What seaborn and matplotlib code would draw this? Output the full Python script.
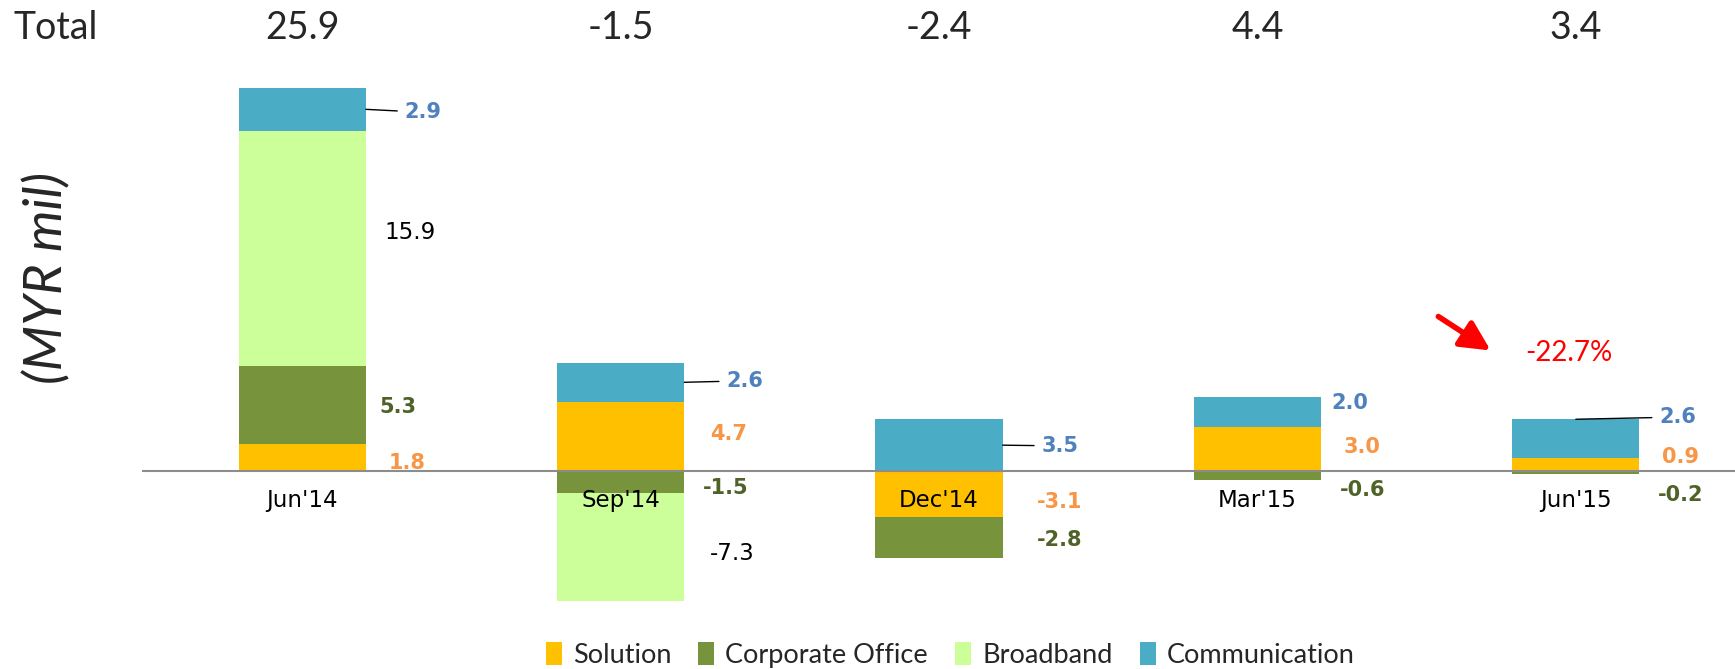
import numpy as np
import pandas as pd
import matplotlib
matplotlib.use("Agg")
import matplotlib.pyplot as plt
import matplotlib.transforms as mtransforms
from matplotlib.patches import Patch
import seaborn as sns

# Quarterly contribution by segment (MYR mil)
quarters = ["Jun'14", "Sep'14", "Dec'14", "Mar'15", "Jun'15"]
series = ["Solution", "Corporate Office", "Broadband", "Communication"]
solution = [1.8, 4.7, -3.1, 3.0, 0.9]
corporate = [5.3, -1.5, -2.8, -0.6, -0.2]
broadband = [15.9, -7.3, 0.0, 0.0, 0.0]
communication = [2.9, 2.6, 3.5, 2.0, 2.6]
totals = ["25.9", "-1.5", "-2.4", "4.4", "3.4"]
change_text = "-22.7%"

bar_colors = ["#FFC000", "#77933C", "#CCFF99", "#4BACC6"]
label_colors = ["#F79646", "#4F6228", "#000000", "#4F81BD"]
label_bold = [True, True, False, True]

# label placement: x offset from bar centre, y nudge from segment middle
label_dx = [
    [0.33, 0.34, 0.38, 0.33, 0.33],
    [0.30, 0.33, 0.38, 0.33, 0.33],
    [0.34, 0.35, 0.38, 0.33, 0.33],
    [0.38, 0.39, 0.38, 0.29, 0.32],
]
label_dy = [
    [-0.36, 0.15, -0.55, 0.1, 0.5],
    [-0.15, -0.4, -0.15, -1.0, -1.5],
    [1.1, -0.4, 0, 0, 0],
    [-0.2, 0.1, -0.05, 0.6, 1.45],
]

sns.set_style("white")
plt.rcParams["font.family"] = ["DejaVu Sans"]

fig = plt.figure(figsize=(17.35, 6.69), dpi=100)
ax = fig.add_axes([143 / 1735, 50 / 669, 1 - 143 / 1735, 540 / 669])

all_vals = [solution, corporate, broadband, communication]
pos_base = np.zeros(len(quarters))
neg_base = np.zeros(len(quarters))
mids = []
tops = []
for name, vals, col in zip(series, all_vals, bar_colors):
    v = np.array(vals)
    bottom = np.where(v >= 0, pos_base, neg_base)
    df = pd.DataFrame({"quarter": quarters, "value": v})
    sns.barplot(data=df, x="quarter", y="value", color=col, width=0.4,
                bottom=bottom, saturation=1, errorbar=None, linewidth=0,
                ax=ax)
    mids.append(bottom + v / 2)
    tops.append(bottom + v)
    pos_base = np.where(v >= 0, pos_base + v, pos_base)
    neg_base = np.where(v < 0, neg_base + v, neg_base)

ax.set_axisbelow(False)
ax.set_xlim(-0.5, 4.5)
ax.set_ylim(-10, 26.5)
ax.set_xlabel("")
ax.set_ylabel("")
ax.set_yticks([])
for s in ["top", "right", "left"]:
    ax.spines[s].set_visible(False)
ax.spines["bottom"].set_position(("data", 0))
ax.spines["bottom"].set_color("#8c8c8c")
ax.spines["bottom"].set_linewidth(1.5)
ax.tick_params(axis="x", length=0, pad=13, labelsize=16.5, colors="black")

# data labels
for k, vals in enumerate(all_vals):
    for i, v in enumerate(vals):
        if v == 0:
            continue
        x = i + label_dx[k][i]
        y = mids[k][i] + label_dy[k][i]
        txt = f"{v:.1f}"
        kw = dict(ha="center", va="center", color=label_colors[k],
                  fontsize=15 if label_bold[k] else 16.5,
                  fontweight="bold" if label_bold[k] else "normal")
        if k == 3 and i != 3:
            if i == 4:
                anchor = (i, tops[k][i])
            else:
                anchor = (i + 0.2, mids[k][i])
            ax.annotate(txt, xy=anchor, xytext=(x, y),
                        arrowprops=dict(arrowstyle="-", color="black", lw=1,
                                        shrinkA=3, shrinkB=0), **kw)
        else:
            ax.text(x, y, txt, **kw)

# totals row
trans = mtransforms.blended_transform_factory(ax.transData, fig.transFigure)
fig.text(13 / 1735, 1 - 28 / 669, "Total", ha="left", va="center",
         fontsize=27, family="Lato")
for i, t in enumerate(totals):
    ax.text(i, 1 - 28 / 669, t, transform=trans, ha="center", va="center",
            fontsize=27, family="Lato")

fig.text(47 / 1735, 1 - 278 / 669, "(MYR mil)", rotation=90, ha="center",
         va="center", fontsize=38, style="italic", family="Lato")

# change annotation
ax.annotate("", xy=(1493 / 1735, 1 - 352 / 669), xycoords="figure fraction",
            xytext=(1436 / 1735, 1 - 315 / 669), textcoords="figure fraction",
            arrowprops=dict(arrowstyle="-|>,head_length=0.9,head_width=0.45",
                            color="red", lw=4, mutation_scale=20))
fig.text(1569 / 1735, 1 - 353 / 669, change_text, ha="center", va="center",
         fontsize=20, color="red", family="Lato")

handles = [Patch(facecolor=c, edgecolor="none") for c in bar_colors]
fig.legend(handles, series, loc="center", bbox_to_anchor=(950 / 1735, 1 - 655 / 669),
           ncol=4, frameon=False, handlelength=0.6, handleheight=0.95,
           handletextpad=0.4, columnspacing=1.0,
           prop={"family": "Lato", "size": 19.5})

fig.savefig("out.png", dpi=100)
